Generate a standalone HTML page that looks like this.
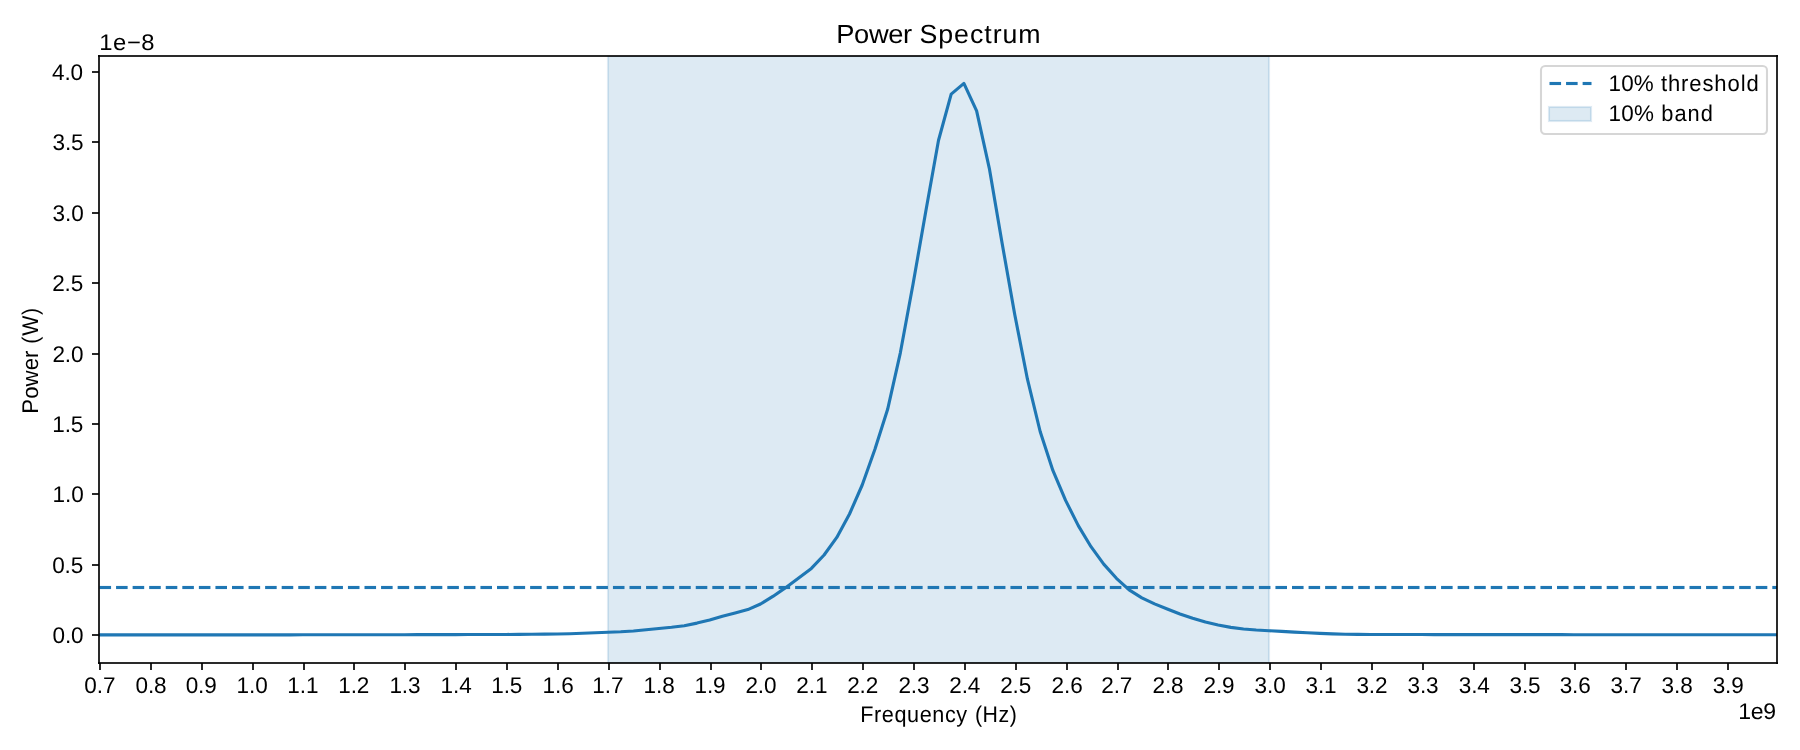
<!DOCTYPE html>
<html lang="en">
<head>
<meta charset="utf-8">
<title>Power Spectrum</title>
<style>
html,body{margin:0;padding:0;background:#fff;}
body{width:1800px;height:750px;position:relative;overflow:hidden;font-family:"Liberation Sans",sans-serif;color:#000;}
#plot{position:absolute;left:0;top:0;display:block;}
#labels{position:absolute;left:0;top:0;width:1800px;height:750px;will-change:transform;font-size:22.7px;}
#title{font-size:26.25px;}
.t{position:absolute;left:0;top:0;white-space:nowrap;line-height:1;transform-origin:0 0;margin:0;padding:0;font-weight:400;font-size:inherit;text-rendering:geometricPrecision;}
.g{position:absolute;left:0;top:0;margin:0;padding:0;font-weight:400;line-height:1;white-space:nowrap;transform-origin:0 0;text-rendering:geometricPrecision;}
.w{display:inline-block;width:0;transform-origin:0 0;}
</style>
</head>
<body>
<svg id="plot" width="1800" height="750" viewBox="0 0 1800 750">
<defs><clipPath id="ax"><rect x="99" y="56" width="1678" height="607"/></clipPath></defs>
<rect x="0" y="0" width="1800" height="750" fill="#ffffff"/>
<g shape-rendering="crispEdges">
<rect x="606" y="56" width="665" height="607" fill="#fdfdfe"/>
<rect x="607" y="56" width="663" height="607" fill="#ddeaf3"/>
<rect x="608" y="56" width="661" height="607" fill="#c0d8e9"/>
<rect x="609" y="57" width="659" height="605" fill="#dbe9f2"/>
<rect x="610" y="58" width="657" height="603" fill="#ddeaf3"/>
</g>
<g clip-path="url(#ax)" fill="none">
<polyline points="99.62,634.90 112.33,634.90 125.04,634.89 137.75,634.89 150.46,634.88 163.17,634.88 175.88,634.88 188.59,634.87 201.30,634.87 214.01,634.86 226.72,634.86 239.43,634.85 252.14,634.85 264.85,634.84 277.56,634.83 290.27,634.82 302.98,634.81 315.69,634.80 328.40,634.79 341.11,634.78 353.82,634.77 366.53,634.76 379.24,634.75 391.95,634.73 404.66,634.70 417.37,634.67 430.08,634.65 442.79,634.62 455.50,634.60 468.21,634.56 480.92,634.53 493.63,634.49 506.34,634.45 519.05,634.38 531.76,634.30 544.47,634.15 557.18,634.00 569.89,633.70 582.60,633.30 595.31,632.80 608.02,632.20 620.73,631.80 633.44,631.00 646.15,629.80 658.86,628.50 671.57,627.30 684.28,625.70 696.99,623.10 709.70,620.00 722.41,616.20 735.12,613.00 747.83,609.60 760.54,604.00 773.25,596.20 785.96,587.40 798.67,578.00 811.38,568.40 824.09,555.00 836.80,537.40 849.51,514.00 862.22,485.00 874.93,449.30 887.64,409.30 900.35,352.80 913.06,284.00 925.77,211.50 938.48,140.50 951.19,94.10 963.90,83.40 976.61,110.80 989.32,168.30 1002.03,242.80 1014.74,314.50 1027.45,379.20 1040.16,431.50 1052.87,470.40 1065.58,500.40 1078.29,525.60 1091.00,546.70 1103.71,564.10 1116.42,578.30 1129.13,589.90 1141.84,597.80 1154.55,603.90 1167.26,609.00 1179.97,614.00 1192.68,618.30 1205.39,622.10 1218.10,625.00 1230.81,627.40 1243.52,629.00 1256.23,630.00 1268.94,630.70 1281.65,631.40 1294.36,632.10 1307.07,632.80 1319.78,633.40 1332.49,633.90 1345.20,634.20 1357.91,634.40 1370.62,634.50 1383.33,634.50 1396.04,634.52 1408.75,634.53 1421.46,634.55 1434.17,634.57 1446.88,634.58 1459.59,634.60 1472.30,634.61 1485.01,634.62 1497.72,634.63 1510.43,634.64 1523.14,634.65 1535.85,634.66 1548.56,634.67 1561.27,634.68 1573.98,634.69 1586.69,634.70 1599.40,634.71 1612.11,634.71 1624.82,634.72 1637.53,634.73 1650.24,634.73 1662.95,634.74 1675.66,634.75 1688.37,634.75 1701.08,634.76 1713.79,634.77 1726.50,634.77 1739.21,634.78 1751.92,634.79 1764.63,634.79 1777.34,634.80" stroke="#1f77b4" stroke-width="3.125" stroke-linejoin="round" stroke-linecap="square"/>
<line x1="99.5" y1="587.5" x2="1777.4" y2="587.5" stroke="#1f77b4" stroke-width="3" stroke-dasharray="11.5625 5"/>
<line x1="99.5" y1="585.5" x2="1777.4" y2="585.5" stroke="#1f77b4" stroke-opacity="0.067" stroke-width="1" stroke-dasharray="11.5625 5"/>
<line x1="99.5" y1="589.5" x2="1777.4" y2="589.5" stroke="#1f77b4" stroke-opacity="0.067" stroke-width="1" stroke-dasharray="11.5625 5"/>
</g>
<g fill="rgba(0,0,0,0.835)" shape-rendering="crispEdges">
<rect x="99" y="663" width="2" height="7"/><rect x="150" y="663" width="2" height="7"/><rect x="201" y="663" width="2" height="7"/><rect x="252" y="663" width="2" height="7"/><rect x="303" y="663" width="2" height="7"/><rect x="353" y="663" width="2" height="7"/><rect x="404" y="663" width="2" height="7"/><rect x="455" y="663" width="2" height="7"/><rect x="506" y="663" width="2" height="7"/><rect x="557" y="663" width="2" height="7"/><rect x="608" y="663" width="2" height="7"/><rect x="659" y="663" width="2" height="7"/><rect x="710" y="663" width="2" height="7"/><rect x="760" y="663" width="2" height="7"/><rect x="811" y="663" width="2" height="7"/><rect x="862" y="663" width="2" height="7"/><rect x="913" y="663" width="2" height="7"/><rect x="964" y="663" width="2" height="7"/><rect x="1015" y="663" width="2" height="7"/><rect x="1066" y="663" width="2" height="7"/><rect x="1117" y="663" width="2" height="7"/><rect x="1167" y="663" width="2" height="7"/><rect x="1218" y="663" width="2" height="7"/><rect x="1269" y="663" width="2" height="7"/><rect x="1320" y="663" width="2" height="7"/><rect x="1371" y="663" width="2" height="7"/><rect x="1422" y="663" width="2" height="7"/><rect x="1473" y="663" width="2" height="7"/><rect x="1524" y="663" width="2" height="7"/><rect x="1574" y="663" width="2" height="7"/><rect x="1625" y="663" width="2" height="7"/><rect x="1676" y="663" width="2" height="7"/><rect x="1727" y="663" width="2" height="7"/>
<rect x="92" y="71" width="7" height="2"/><rect x="92" y="141" width="7" height="2"/><rect x="92" y="212" width="7" height="2"/><rect x="92" y="282" width="7" height="2"/><rect x="92" y="353" width="7" height="2"/><rect x="92" y="423" width="7" height="2"/><rect x="92" y="493" width="7" height="2"/><rect x="92" y="564" width="7" height="2"/><rect x="92" y="634" width="7" height="2"/>
<rect x="98" y="55" width="2" height="609"/><rect x="1776" y="55" width="2" height="609"/><rect x="98" y="55" width="1680" height="2"/><rect x="98" y="662" width="1680" height="2"/>
</g>
<rect x="1541" y="66" width="226" height="68" rx="4.17" ry="4.17" fill="#ffffff" fill-opacity="0.8" stroke="#cccccc" stroke-opacity="0.8" stroke-width="2.083"/>
<line x1="1549.5" y1="83.5" x2="1591.5" y2="83.5" stroke="#1f77b4" stroke-width="3" stroke-dasharray="11.5625 5"/>
<line x1="1549.5" y1="81.5" x2="1591.5" y2="81.5" stroke="#1f77b4" stroke-opacity="0.067" stroke-width="1" stroke-dasharray="11.5625 5"/>
<line x1="1549.5" y1="85.5" x2="1591.5" y2="85.5" stroke="#1f77b4" stroke-opacity="0.067" stroke-width="1" stroke-dasharray="11.5625 5"/>
<g shape-rendering="crispEdges"><rect x="1547" y="105" width="46" height="18" fill="#fdfdfe"/><rect x="1548" y="106" width="44" height="16" fill="#ddeaf3"/><rect x="1549" y="107" width="42" height="14" fill="#c0d8e9"/><rect x="1550" y="108" width="40" height="12" fill="#dbe9f2"/><rect x="1551" y="109" width="38" height="10" fill="#ddeaf3"/></g>
</svg>
<div id="labels">
<h1 class="g" id="title" style="transform:translate(836.24px,21px)"><span class="w" style="transform:scaleX(1.0387);letter-spacing:-0.34px">Power</span> <span class="w" style="transform:translate(76.15px,0) scaleX(1.0184);letter-spacing:0.96px">Spectrum</span></h1>
<div class="g" id="xlabel" style="transform:translate(860.21px,703px)"><span class="w" style="transform:scaleX(0.9528);letter-spacing:0.63px">Frequency</span> <span class="w" style="transform:translate(108.67px,0) scaleX(0.9400);letter-spacing:0.57px">(Hz)</span></div>
<div class="g" id="ylabel" style="transform:translate(19px,413.67px) rotate(-90deg)"><span class="w" style="transform:scaleX(0.9764);letter-spacing:0.08px">Power</span> <span class="w" style="transform:translate(64.04px,0) scaleX(0.9400);letter-spacing:0.80px">(W)</span></div>
<div class="t" id="xoff" style="transform:translate(1738.34px,700px) scaleX(1.0156);letter-spacing:-0.32px">1e9</div>
<div class="t" id="yoff" style="transform:translate(99.35px,31px) scaleX(1.0481);letter-spacing:0.52px">1e−8</div>
<div id="legend-labels">
<div class="g" id="leg1" style="transform:translate(1608.40px,72px)"><span class="w" style="transform:scaleX(0.9887);letter-spacing:0.26px">10%</span> <span class="w" style="transform:translate(46.57px,0) scaleX(0.9710);letter-spacing:0.91px">threshold</span></div>
<div class="g" id="leg2" style="transform:translate(1608.41px,102px)"><span class="w" style="transform:scaleX(0.9897);letter-spacing:0.25px">10%</span> <span class="w" style="transform:translate(46.84px,0) scaleX(0.9619);letter-spacing:1.06px">band</span></div>
</div>
<div id="yticklabels">
<div class="t" id="y4_0" style="transform:translate(51.97px,61px) scaleX(0.9935);letter-spacing:-0.09px">4.0</div>
<div class="t" id="y3_5" style="transform:translate(52.45px,131px) scaleX(0.9935);letter-spacing:-0.09px">3.5</div>
<div class="t" id="y3_0" style="transform:translate(52.58px,202px) scaleX(0.9935);letter-spacing:-0.09px">3.0</div>
<div class="t" id="y2_5" style="transform:translate(52.16px,272px) scaleX(0.9935);letter-spacing:-0.09px">2.5</div>
<div class="t" id="y2_0" style="transform:translate(52.39px,343px) scaleX(0.9935);letter-spacing:-0.09px">2.0</div>
<div class="t" id="y1_5" style="transform:translate(52.24px,413px) scaleX(0.9935);letter-spacing:-0.09px">1.5</div>
<div class="t" id="y1_0" style="transform:translate(52.51px,483px) scaleX(0.9935);letter-spacing:-0.09px">1.0</div>
<div class="t" id="y0_5" style="transform:translate(52.16px,554px) scaleX(0.9935);letter-spacing:-0.09px">0.5</div>
<div class="t" id="y0_0" style="transform:translate(52.50px,624px) scaleX(0.9935);letter-spacing:-0.09px">0.0</div>
</div>
<div id="xticklabels">
<div class="t" id="x0_7" style="transform:translate(84.33px,674px) scaleX(0.9935);letter-spacing:-0.09px">0.7</div>
<div class="t" id="x0_8" style="transform:translate(135.48px,674px) scaleX(0.9935);letter-spacing:-0.09px">0.8</div>
<div class="t" id="x0_9" style="transform:translate(185.63px,674px) scaleX(0.9935);letter-spacing:-0.09px">0.9</div>
<div class="t" id="x1_0" style="transform:translate(236.51px,674px) scaleX(0.9935);letter-spacing:-0.09px">1.0</div>
<div class="t" id="x1_1" style="transform:translate(287.31px,674px) scaleX(0.9935);letter-spacing:-0.09px">1.1</div>
<div class="t" id="x1_2" style="transform:translate(338.23px,674px) scaleX(0.9935);letter-spacing:-0.09px">1.2</div>
<div class="t" id="x1_3" style="transform:translate(389.40px,674px) scaleX(0.9935);letter-spacing:-0.09px">1.3</div>
<div class="t" id="x1_4" style="transform:translate(440.54px,674px) scaleX(0.9935);letter-spacing:-0.09px">1.4</div>
<div class="t" id="x1_5" style="transform:translate(491.24px,674px) scaleX(0.9935);letter-spacing:-0.09px">1.5</div>
<div class="t" id="x1_6" style="transform:translate(542.61px,674px) scaleX(0.9935);letter-spacing:-0.09px">1.6</div>
<div class="t" id="x1_7" style="transform:translate(592.33px,674px) scaleX(0.9935);letter-spacing:-0.09px">1.7</div>
<div class="t" id="x1_8" style="transform:translate(643.59px,674px) scaleX(0.9935);letter-spacing:-0.09px">1.8</div>
<div class="t" id="x1_9" style="transform:translate(694.47px,674px) scaleX(0.9935);letter-spacing:-0.09px">1.9</div>
<div class="t" id="x2_0" style="transform:translate(745.39px,674px) scaleX(0.9935);letter-spacing:-0.09px">2.0</div>
<div class="t" id="x2_1" style="transform:translate(796.29px,674px) scaleX(0.9935);letter-spacing:-0.09px">2.1</div>
<div class="t" id="x2_2" style="transform:translate(847.15px,674px) scaleX(0.9935);letter-spacing:-0.09px">2.2</div>
<div class="t" id="x2_3" style="transform:translate(898.42px,674px) scaleX(0.9935);letter-spacing:-0.09px">2.3</div>
<div class="t" id="x2_4" style="transform:translate(949.25px,674px) scaleX(0.9935);letter-spacing:-0.09px">2.4</div>
<div class="t" id="x2_5" style="transform:translate(1000.16px,674px) scaleX(0.9935);letter-spacing:-0.09px">2.5</div>
<div class="t" id="x2_6" style="transform:translate(1051.51px,674px) scaleX(0.9935);letter-spacing:-0.09px">2.6</div>
<div class="t" id="x2_7" style="transform:translate(1101.24px,674px) scaleX(0.9935);letter-spacing:-0.09px">2.7</div>
<div class="t" id="x2_8" style="transform:translate(1152.45px,674px) scaleX(0.9935);letter-spacing:-0.09px">2.8</div>
<div class="t" id="x2_9" style="transform:translate(1203.47px,674px) scaleX(0.9935);letter-spacing:-0.09px">2.9</div>
<div class="t" id="x3_0" style="transform:translate(1254.58px,674px) scaleX(0.9935);letter-spacing:-0.09px">3.0</div>
<div class="t" id="x3_1" style="transform:translate(1305.45px,674px) scaleX(0.9935);letter-spacing:-0.09px">3.1</div>
<div class="t" id="x3_2" style="transform:translate(1356.41px,674px) scaleX(0.9935);letter-spacing:-0.09px">3.2</div>
<div class="t" id="x3_3" style="transform:translate(1407.50px,674px) scaleX(0.9935);letter-spacing:-0.09px">3.3</div>
<div class="t" id="x3_4" style="transform:translate(1458.68px,674px) scaleX(0.9935);letter-spacing:-0.09px">3.4</div>
<div class="t" id="x3_5" style="transform:translate(1509.45px,674px) scaleX(0.9935);letter-spacing:-0.09px">3.5</div>
<div class="t" id="x3_6" style="transform:translate(1559.65px,674px) scaleX(0.9935);letter-spacing:-0.09px">3.6</div>
<div class="t" id="x3_7" style="transform:translate(1610.58px,674px) scaleX(0.9935);letter-spacing:-0.09px">3.7</div>
<div class="t" id="x3_8" style="transform:translate(1661.60px,674px) scaleX(0.9935);letter-spacing:-0.09px">3.8</div>
<div class="t" id="x3_9" style="transform:translate(1712.67px,674px) scaleX(0.9935);letter-spacing:-0.09px">3.9</div>
</div>
</div>
</body>
</html>
